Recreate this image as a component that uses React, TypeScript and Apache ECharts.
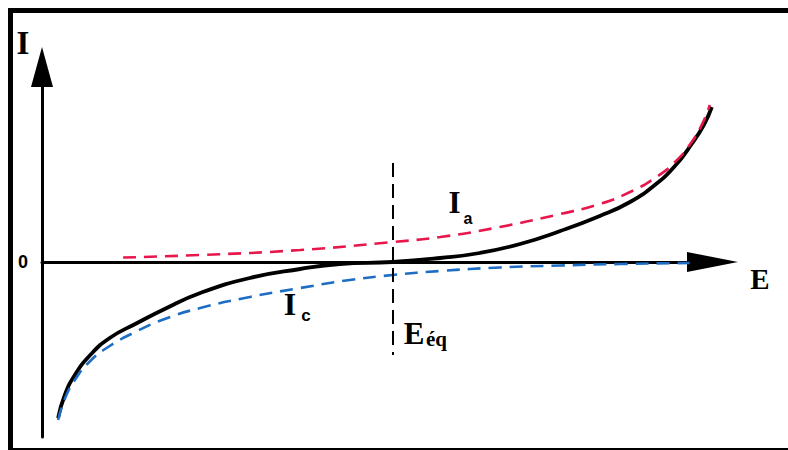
import React, { useEffect, useRef } from "react";
import * as echarts from "echarts";

// Potential E (arbitrary units, 0..100) and current I (arbitrary units)
const E_SUM = [2.4, 3.4, 4.9, 7.2, 10.1, 13.9, 18.3, 23.6, 31.0, 38.5, 44.4, 52.3, 59.4, 65.3, 71.3, 77.3, 83.2, 87.7, 91.4, 94.4, 96.9, 98.7, 99.9];
const I_SUM = [-156, -133, -113, -93, -76, -62, -47, -31, -16, -7, -2, 0, 4, 9, 18, 31, 46, 60, 77, 96, 118, 137, 155];

const E_A = [12.1, 23.6, 38.5, 52.3, 59.4, 68.3, 77.3, 83.2, 87.7, 91.4, 94.4, 96.9, 98.6, 99.6];
const I_A = [4.5, 7, 12, 20, 25, 35, 48, 58, 70, 84, 100, 120, 140, 157];

const E_C = [2.4, 3.4, 4.9, 7.2, 10.1, 13.9, 18.3, 23.6, 31.0, 38.5, 45.9, 52.3, 59.4, 68.3, 77.3, 86.2, 96.6];
const I_C = [-158, -137, -118, -99, -84, -70, -57, -46, -35, -26, -18, -13, -9, -5.5, -3.5, -2, -1];

const E_EQ = 52.3;
const EQ_LINE_I = [99, -93];

const toPairs = (xs: number[], ys: number[]) => xs.map((x, i) => [x, ys[i]]);

export default function App() {
  const ref = useRef<HTMLDivElement>(null);
  useEffect(() => {
    const chart = echarts.init(ref.current!, null, { renderer: "svg" });
    const serif = '"Liberation Serif", "Times New Roman", serif';
    const sans = '"Liberation Sans", Arial, sans-serif';
    const txt = (text: string, x: number, y: number, size: number, family: string, align = "center") => ({
      type: "text",
      x,
      y,
      z: 20,
      style: {
        text,
        fontSize: size,
        fontWeight: "bold",
        fontFamily: family,
        fill: "#000",
        align,
        textAlign: align,
        verticalAlign: "middle",
        textVerticalAlign: "middle",
      },
    });
    const axisCommon = {
      type: "value",
      axisTick: { show: false },
      axisLabel: { show: false },
      splitLine: { show: false },
    };
    chart.setOption({
      animation: false,
      backgroundColor: "#ffffff",
      grid: { left: 42, right: 75.5, top: 67, bottom: 13 },
      xAxis: {
        ...axisCommon,
        min: 0,
        max: 100,
        axisLine: {
          onZero: true,
          lineStyle: { color: "#000", width: 3 },
          symbol: ["none", "triangle"],
          symbolSize: [20, 51],
        },
      },
      yAxis: {
        ...axisCommon,
        min: -175,
        max: 195,
        axisLine: {
          show: true,
          onZero: true,
          lineStyle: { color: "#000", width: 3 },
          symbol: ["none", "triangle"],
          symbolSize: [22, 40],
        },
      },
      series: [
        {
          type: "line",
          name: "I",
          data: toPairs(E_SUM, I_SUM),
          showSymbol: false,
          smooth: 0.5,
          lineStyle: { color: "#000", width: 3.8 },
          z: 3,
          markLine: {
            silent: true,
            symbol: ["none", "none"],
            label: { show: false },
            lineStyle: { color: "#000", width: 2, type: [14, 7] },
            data: [[{ coord: [E_EQ, EQ_LINE_I[0]] }, { coord: [E_EQ, EQ_LINE_I[1]] }]],
          },
        },
        {
          type: "line",
          name: "Ia",
          data: toPairs(E_A, I_A),
          showSymbol: false,
          smooth: 0.5,
          lineStyle: { color: "#E8174B", width: 2.6, type: [13, 8] },
          z: 4,
        },
        {
          type: "line",
          name: "Ic",
          data: toPairs(E_C, I_C),
          showSymbol: false,
          smooth: 0.5,
          lineStyle: { color: "#1E6DC4", width: 2.6, type: [13, 8] },
          z: 4,
        },
      ],
      graphic: [
        {
          type: "rect",
          z: 30,
          shape: { x: 10.5, y: 10.5, width: 800, height: 440 },
          style: { fill: "none", stroke: "#000", lineWidth: 5 },
        },
        txt("I", 23, 43, 33, serif),
        txt("0", 23, 262, 18, sans),
        txt("E", 760, 279, 29, serif),
        txt("I", 454.5, 202, 31, serif),
        txt("a", 468, 218, 16, sans),
        txt("I", 290, 304, 32, serif),
        txt("c", 306, 315, 17, sans),
        txt("E", 414, 333, 31, serif),
        txt("éq", 426, 339, 21, serif, "left"),
      ],
    });
    return () => chart.dispose();
  }, []);
  return <div ref={ref} style={{ position: "fixed", left: 0, top: 0, width: 788, height: 450 }} />;
}
